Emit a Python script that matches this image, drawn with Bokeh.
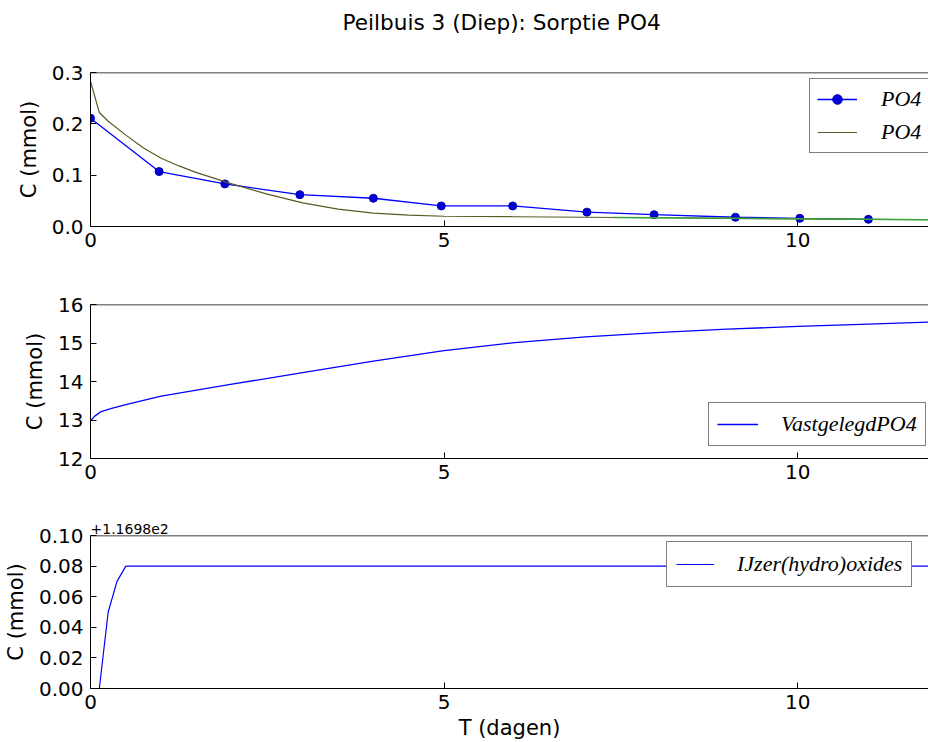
from bokeh.plotting import figure
from bokeh.layouts import column
from bokeh.models import (Range1d, FixedTicker, PrintfTickFormatter, Span,
                          CustomJSTickFormatter, Legend, LegendItem, Title)
from bokeh.embed import file_html
from bokeh.resources import INLINE

# ---------------- data ----------------
title_text = "Peilbuis 3 (Diep): Sorptie PO4"
x_label = "T (dagen)"
y_label = "C (mmol)"

# measured PO4 (blue markers)
t_meas = [0.0, 0.97, 1.9, 2.96, 4.0, 4.96, 5.97, 7.02, 7.97, 9.12, 10.03, 11.0]
po4_meas = [0.211, 0.107, 0.083, 0.062, 0.055, 0.040, 0.040, 0.028, 0.023, 0.018, 0.016, 0.014]

# modelled PO4 (olive line)
t_model = [0.0, 0.125, 0.25, 0.5, 0.75, 1.0, 1.25, 1.5, 2.0, 2.5, 3.0, 3.5, 4.0, 4.5, 5.0,
           6.0, 7.0, 8.0, 9.0, 10.0, 11.0, 12.0]
po4_model = [0.283, 0.222, 0.205, 0.178, 0.153, 0.133, 0.118, 0.105, 0.083, 0.063, 0.046,
             0.034, 0.026, 0.022, 0.020, 0.019, 0.018, 0.017, 0.016, 0.015, 0.014, 0.013]

# green overlay of the model tail
t_green = [7.4, 8.0, 9.0, 10.0, 11.0, 12.0]
po4_green = [0.0175, 0.017, 0.016, 0.015, 0.014, 0.013]

# sorbed PO4
t_vast = [0.0, 0.06, 0.15, 0.3, 0.5, 1.0, 2.0, 3.0, 4.0, 5.0, 6.0, 7.0, 8.0, 9.0, 10.0, 11.0, 12.0]
vast = [12.98, 13.1, 13.22, 13.3, 13.4, 13.62, 13.93, 14.23, 14.53, 14.8, 15.01, 15.16,
        15.27, 15.36, 15.43, 15.49, 15.55]

# iron (hydro)oxides
iron_offset = 116.98
iron_offset_text = "+1.1698e2"
t_iron = [0.125, 0.25, 0.375, 0.5, 12.0]
iron = [116.98, 117.03, 117.05, 117.06, 117.06]

x_ticks = [0, 5, 10]
y1_ticks = [0.0, 0.1, 0.2, 0.3]
y2_ticks = [12, 13, 14, 15, 16]
y3_ticks_rel = [0.00, 0.02, 0.04, 0.06, 0.08, 0.10]

legend1 = ["PO4", "PO4"]
legend2 = "VastgelegdPO4"
legend3 = "IJzer(hydro)oxides"

# ---------------- styling helpers ----------------
FONT = "DejaVu Sans"
LFONT = "Liberation Serif"
X_END = 11.85


def style_axis(ax, ticks, fmt):
    ax.ticker = FixedTicker(ticks=ticks)
    ax.formatter = fmt
    ax.major_tick_in = 6
    ax.major_tick_out = 0
    ax.minor_tick_line_color = None
    ax.axis_line_color = "black"
    ax.axis_line_width = 1
    ax.major_tick_line_color = "black"
    ax.major_label_text_font = FONT
    ax.major_label_text_font_size = "20px"
    ax.major_label_text_color = "black"
    ax.axis_label_text_font = FONT
    ax.axis_label_text_font_size = "21px"
    ax.axis_label_text_font_style = "normal"
    ax.axis_label_text_color = "black"


def make_fig(height, top, bottom, y_range, y_ticks, y_fmt, show_xlabel=False):
    p = figure(width=928, height=height, output_backend="svg", toolbar_location=None,
               x_range=Range1d(0, X_END), y_range=y_range,
               min_border_left=89, min_border_right=0,
               min_border_top=top, min_border_bottom=bottom,
               x_axis_label=x_label if show_xlabel else None, y_axis_label=y_label)
    p.grid.visible = False
    p.outline_line_color = None
    p.background_fill_color = "white"
    p.border_fill_color = "white"
    style_axis(p.xaxis[0], x_ticks, PrintfTickFormatter(format="%d"))
    style_axis(p.yaxis[0], y_ticks, y_fmt)
    p.xaxis[0].major_label_standoff = 6
    p.yaxis[0].major_label_standoff = 7
    p.yaxis[0].axis_label_standoff = 8
    p.xaxis[0].axis_label_standoff = 4
    p.add_layout(Span(location=y_range.end, dimension="width", line_color="black",
                      line_width=1.5))
    return p


def style_legend(lg, padding, glyph_w, standoff):
    lg.border_line_color = "black"
    lg.border_line_width = 1
    lg.background_fill_color = "white"
    lg.background_fill_alpha = 1
    lg.label_text_font = LFONT
    lg.label_text_font_style = "italic"
    lg.label_text_font_size = "22px"
    lg.label_text_color = "black"
    lg.padding = padding
    lg.margin = 0
    lg.glyph_width = glyph_w
    lg.glyph_height = 24
    lg.label_height = 24
    lg.label_standoff = standoff
    lg.spacing = 7


# ---------------- title strip ----------------
p0 = figure(width=928, height=50, output_backend="svg", toolbar_location=None,
            x_axis_location=None, y_axis_location=None,
            min_border_left=89, min_border_right=0, min_border_top=0, min_border_bottom=0)
p0.grid.visible = False
p0.outline_line_color = None
p0.title = Title(text=title_text, align="left", vertical_align="top", text_font=FONT,
                 text_font_size="21.6px", text_font_style="normal", text_color="black",
                 standoff=18, offset=252)

# ---------------- panel 1 ----------------
p1 = make_fig(215, 22, 39, Range1d(0, 0.3), y1_ticks, PrintfTickFormatter(format="%.1f"))
r_meas_line = p1.line(t_meas, po4_meas, line_color="#0000ff", line_width=1.3)
r_meas_pts = p1.scatter(t_meas, po4_meas, size=8, fill_color="#0000dd", line_color="#0000aa")
r_model = p1.line(t_model, po4_model, line_color="#5a5a22", line_width=1.2)
p1.line(t_green, po4_green, line_color="#3aa63a", line_width=1.6)
lg1 = Legend(items=[LegendItem(label=legend1[0], renderers=[r_meas_line, r_meas_pts]),
                    LegendItem(label=legend1[1], renderers=[r_model])],
             location=(719, 73))
style_legend(lg1, 7, 40, 24)
p1.add_layout(lg1)

# ---------------- panel 2 ----------------
p2 = make_fig(231, 39, 38, Range1d(12, 16), y2_ticks, PrintfTickFormatter(format="%d"))
r_vast = p2.line(t_vast, vast, line_color="#0000ff", line_width=1.3)
lg2 = Legend(items=[LegendItem(label=legend2, renderers=[r_vast])], location=(618, 12))
style_legend(lg2, 8, 41, 23)
p2.add_layout(lg2)

# ---------------- panel 3 ----------------
y3_ticks = [iron_offset + v for v in y3_ticks_rel]
fmt3 = CustomJSTickFormatter(args=dict(off=iron_offset),
                             code="return (tick - off).toFixed(2);")
p3 = make_fig(246, 39, 53, Range1d(iron_offset, iron_offset + 0.10), y3_ticks, fmt3,
              show_xlabel=True)
p3.title = Title(text=iron_offset_text, align="left", text_font=FONT, text_font_size="14px",
                 text_font_style="normal", text_color="black", standoff=3, offset=0)
r_iron = p3.line(t_iron, iron, line_color="#0000ff", line_width=1.2)
lg3 = Legend(items=[LegendItem(label=legend3, renderers=[r_iron])], location=(576, 101))
style_legend(lg3, 9, 38, 23)
p3.add_layout(lg3)

layout = column(p0, p1, p2, p3, spacing=0)
open("out.html", "w").write(file_html(layout, INLINE))
